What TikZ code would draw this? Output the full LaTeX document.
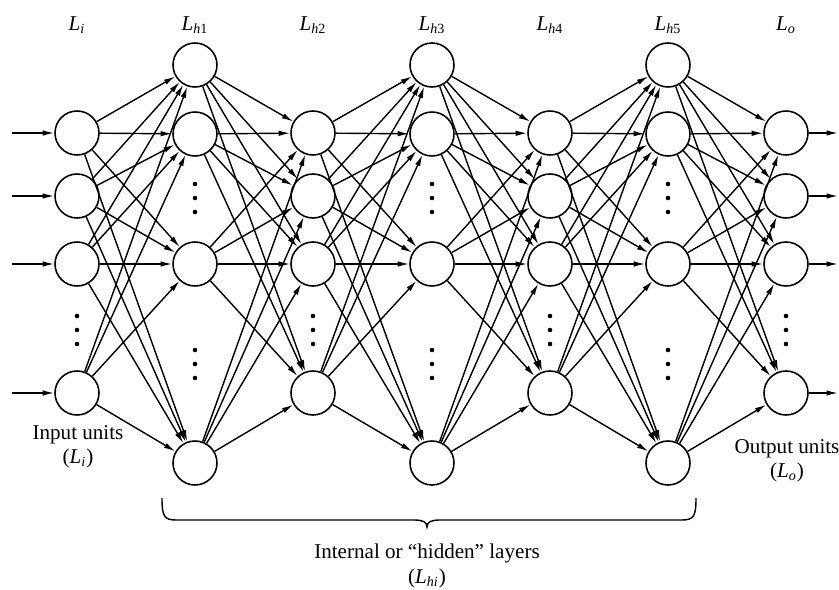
\documentclass[tikz,border=0pt]{standalone}
\usepackage{fontspec}
\setmainfont{Liberation Serif}
\usetikzlibrary{arrows.meta}
\tikzset{
  unit/.style={circle,draw,line width=0.9pt,minimum size=8.8mm,inner sep=0pt},
  link/.style={line width=0.8pt,-{Latex[length=2.3mm,width=1.1mm]}},
  dot/.style={circle,fill,inner sep=0pt,minimum size=2.6pt},
}
\newcommand{\lname}[1]{\textit{L}\textsubscript{#1}}
\begin{document}
\begin{tikzpicture}[x=0.2mm,y=-0.2mm,font=\fontsize{12}{14}\selectfont]
	\useasboundingbox (0,0) rectangle (839,590);
	% input, hidden 2, hidden 4 and output layers
	\foreach \l/\x in {0/77,2/313,4/550,6/786}{
	   \foreach \k/\y in {1/133,2/196,3/264,4/393}
	      \node[unit] (n\l-\k) at (\x,\y) {};
	   \foreach \y in {316,330,344} \node[dot] at (\x,\y) {};
	}
	% hidden 1, 3 and 5 (shifted up and down)
	\foreach \l/\x in {1/195,3/432,5/668}{
	   \foreach \k/\y in {1/65,2/134,3/264,4/463}
	      \node[unit] (n\l-\k) at (\x,\y) {};
	   \foreach \y in {184,198,212,350,364,378} \node[dot] at (\x,\y) {};
	}
	% every unit feeds every unit of the next layer
	\foreach \l [evaluate=\l as \m using int(\l+1)] in {0,...,5}
	   \foreach \a in {1,...,4}
	      \foreach \b in {1,...,4}
	         \draw[link] (n\l-\a) -- (n\m-\b);
	% inputs and outputs
	\foreach \k/\y in {1/133,2/196,3/264,4/393}{
	   \coordinate (in\k) at (12,\y);
	   \coordinate (out\k) at (838,\y);
	   \draw[link] (in\k) -- (n0-\k);
	   \draw[link] (n6-\k) -- (out\k);
	}
	% layer names
	\node (lab0) at (77,25) {\lname{\textit{i}}};
	\node (lab1) at (195,25) {\lname{\textit{h}1}};
	\node (lab2) at (313,25) {\lname{\textit{h}2}};
	\node (lab3) at (432,25) {\lname{\textit{h}3}};
	\node (lab4) at (550,25) {\lname{\textit{h}4}};
	\node (lab5) at (668,25) {\lname{\textit{h}5}};
	\node (lab6) at (786,25) {\lname{\textit{o}}};
	\node (intxt) at (78,435) {Input units};
	\node (insub) at (78,458) {(\lname{\textit{i}})};
	\node (outtxt) at (787,449) {Output units};
	\node (outsub) at (787,472) {(\lname{\textit{o}})};
	% brace under the hidden layers
	\draw[line width=0.8pt] (162,498) .. controls (162,516) and (164,520) .. (176,520) -- (414,520)
	   .. controls (423,520) and (427,522) .. (427,527) .. controls (427,522) and (431,520) .. (440,520)
	   -- (682,520) .. controls (694,520) and (696,516) .. (696,498);
	\node (hidtxt) at (427,553) {Internal or ``hidden'' layers};
	\node (hidsub) at (427,578) {(\lname{\textit{hi}})};
\end{tikzpicture}
\end{document}
